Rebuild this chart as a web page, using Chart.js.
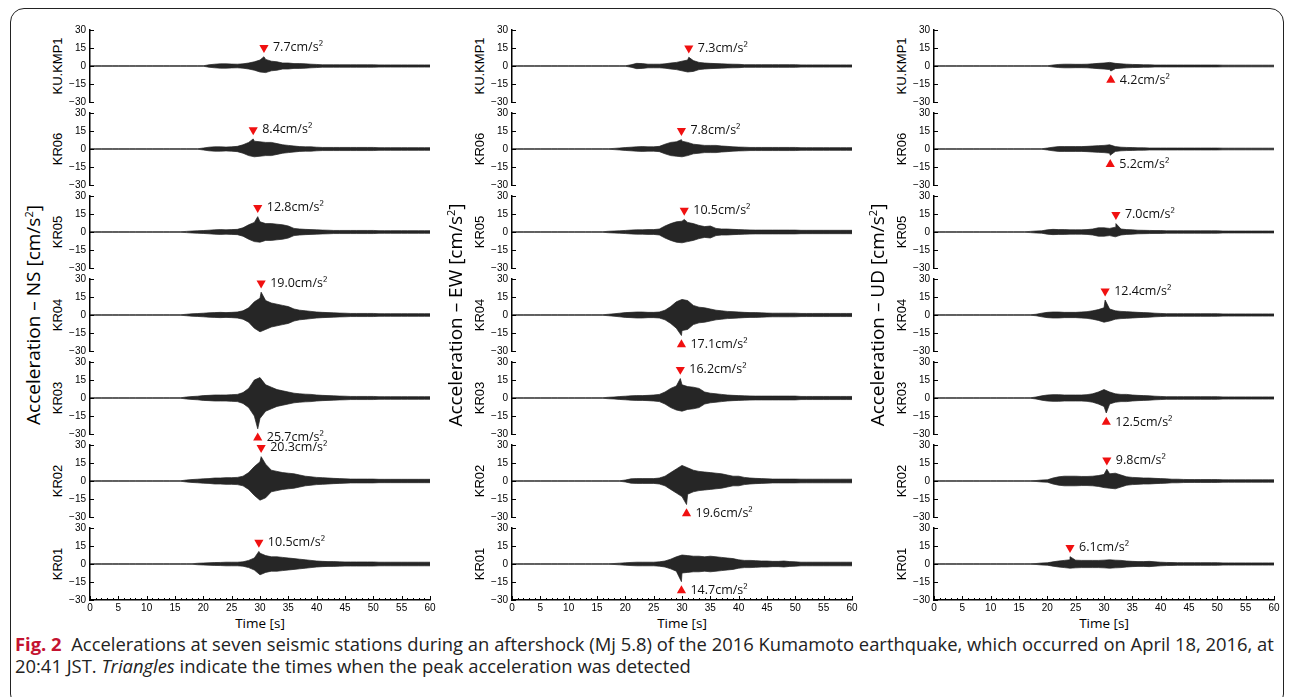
<!DOCTYPE html>
<html>
<head>
<meta charset="utf-8">
<script src="https://cdn.jsdelivr.net/npm/chart.js@4.4.0/dist/chart.umd.min.js"></script>
<style>
body { margin: 0; background: #fff; width: 1290px; height: 697px; overflow: hidden; position: relative; font-family: 'Open Sans', sans-serif; }
.frame { position: absolute; left: 10px; top: 8px; width: 1274px; height: 700px; border: 1px solid #222; border-radius: 14px; box-sizing: border-box; }
.panel { position: absolute; }
.vlab { position: absolute; transform: translate(-50%, -50%) rotate(-90deg); white-space: nowrap; color: #000; }
.hlab { position: absolute; transform: translate(-50%, -50%); white-space: nowrap; color: #000; font-size: 13.5px; }
.station { font-family: 'Liberation Sans', Arial, sans-serif; font-size: 13px; }
.comp { font-family: 'Open Sans', sans-serif; font-size: 19px; }
.caption { position: absolute; left: 15px; top: 633px; width: 1270px; font-size: 18.4px; line-height: 22px; color: #222; white-space: nowrap; }
.caption b { color: #c41230; }
</style>
</head>
<body>
<div class="frame"></div>
<div class="caption"><b>Fig. 2</b>&nbsp; Accelerations at seven seismic stations during an aftershock (Mj 5.8) of the 2016 Kumamoto earthquake, which occurred on April 18, 2016, at<br>20:41 JST. <i>Triangles</i> indicate the times when the peak acceleration was detected</div>
<script>
// time axis (s) and ticks
const timeSec = [0,1,2,3,4,5,6,7,8,9,10,11,12,13,14,15,16,17,18,19,20,21,22,23,24,25,26,27,28,29,30,
  31,32,33,34,35,36,37,38,39,40,41,42,43,44,45,46,47,48,49,50,51,52,53,54,55,56,57,58,59,60];
const xTickLabels = [0,5,10,15,20,25,30,35,40,45,50,55,60];
const yTickLabels = [-30,-15,0,15,30];

const stations = ['KU.KMP1','KR06','KR05','KR04','KR03','KR02','KR01'];
const components = ['NS','EW','UD'];

// amplitude envelopes, cm/s^2, one value per second 0..60
const nsKMP1 = [.2,.2,.2,.2,.2,.2,.2,.2,.2,.2, .2,.2,.2,.2,.2,.2,.2,.2,.2,.2,
  .2,1.0,1.5,1.8,1.8,1.6,1.5,1.8,2.5,3.5, 5.0,5.5,4.0,3.5,2.5,2.5,2.0,2.0,1.8,1.5,
  1.3,1.0,1.0,1.0,1.0,1.0,1.0,1.0,1.0,1.0, 1.0,.9,.9,.9,.9,.9,.9,.9,.9,.9,.9];
const nsKR06 = [.2,.2,.2,.2,.2,.2,.2,.2,.2,.2, .2,.2,.2,.2,.2,.2,.2,.2,.2,.2,
  .8,1.5,1.8,1.8,1.6,1.8,2.2,3.5,5.5,6.5, 6.0,5.5,5.5,4.5,3.5,3.0,2.5,2.0,1.8,1.8,
  1.5,1.3,1.3,1.3,1.3,1.3,1.3,1.3,1.3,1.3, 1.3,1.1,1.1,1.1,1.1,1.1,1.1,1.1,1.1,1.1,1.1];
const nsKR05 = [.2,.2,.2,.2,.2,.2,.2,.2,.2,.2, .2,.2,.2,.2,.2,.2,.2,.5,.8,1.0,
  1.2,1.5,1.8,2.0,1.8,2.0,2.2,3.5,6.0,8.0, 8.5,7.0,7.0,6.5,6.0,5.0,3.0,2.5,2.2,2.0,
  1.8,1.6,1.5,1.3,1.3,1.3,1.3,1.3,1.3,1.3, 1.3,1.1,1.1,1.1,1.1,1.1,1.1,1.1,1.1,1.1,1.1];
const nsKR04 = [.2,.2,.2,.2,.2,.2,.2,.2,.2,.2, .2,.2,.2,.2,.2,.2,.2,.6,1.0,1.2,
  1.5,1.8,2.0,2.2,2.0,2.2,2.5,3.5,6.0,11.0, 14.0,12.0,10.0,9.0,8.0,7.0,5.0,4.0,3.5,3.0,
  2.5,2.2,2.0,1.8,1.6,1.5,1.3,1.3,1.3,1.3, 1.3,1.1,1.1,1.1,1.1,1.1,1.1,1.1,1.1,1.1,1.1];
const nsKR03 = [.2,.2,.2,.2,.2,.2,.2,.2,.2,.2, .2,.2,.2,.2,.2,.2,.2,.8,1.2,1.5,
  2.0,2.2,2.5,2.5,2.5,2.8,3.0,4.5,8.0,15.0, 17.0,11.0,9.0,7.0,6.0,5.0,4.0,3.5,3.2,3.0,
  2.5,2.2,2.0,1.8,1.6,1.5,1.3,1.3,1.3,1.3, 1.3,1.1,1.1,1.1,1.1,1.1,1.1,1.1,1.1,1.1,1.1];
const nsKR02 = [.2,.2,.2,.2,.2,.2,.2,.2,.2,.2, .2,.2,.2,.2,.2,.2,.2,.8,1.2,1.5,
  1.8,2.0,2.5,2.5,2.8,2.8,3.0,4.0,7.0,12.0, 16.0,14.0,9.0,8.0,7.0,6.5,6.0,5.0,4.0,3.5,
  3.0,2.8,2.5,2.2,2.0,1.8,1.6,1.6,1.6,1.6, 1.6,1.4,1.4,1.4,1.4,1.4,1.4,1.4,1.4,1.4,1.4];
const nsKR01 = [.2,.2,.2,.2,.2,.2,.2,.2,.2,.2, .2,.2,.2,.2,.2,.2,.2,.2,.2,.6,
  .8,1.0,1.2,1.3,1.5,1.5,1.5,1.8,3.0,5.0, 9.0,7.0,6.0,6.0,5.5,5.0,4.5,4.0,3.5,3.0,
  2.5,2.2,2.0,2.0,1.8,1.7,1.7,1.7,1.7,1.7, 1.7,1.5,1.5,1.5,1.5,1.5,1.5,1.5,1.5,1.5,1.5];

const ewKMP1 = [.2,.2,.2,.2,.2,.2,.2,.2,.2,.2, .2,.2,.2,.2,.2,.2,.2,.2,.2,.2,
  .2,1.0,2.2,2.0,1.5,1.5,1.5,1.8,2.5,3.0, 4.0,5.0,4.5,3.0,2.5,2.2,2.0,1.8,1.6,1.5,
  1.4,1.1,1.1,1.1,1.1,1.1,1.1,1.1,1.1,1.1, 1.1,.9,.9,.9,.9,.9,.9,.9,.9,.9,.9];
const ewKR06 = [.2,.2,.2,.2,.2,.2,.2,.2,.2,.2, .2,.2,.2,.2,.2,.2,.2,.2,.5,.8,
  1.2,1.5,1.8,2.0,1.8,1.8,2.2,4.0,5.5,6.0, 6.5,5.5,4.0,3.5,3.0,3.0,3.0,2.5,2.2,1.8,
  1.6,1.5,1.3,1.3,1.3,1.3,1.3,1.3,1.3,1.3, 1.3,1.1,1.1,1.1,1.1,1.1,1.1,1.1,1.1,1.1,1.1];
const ewKR05 = [.2,.2,.2,.2,.2,.2,.2,.2,.2,.2, .2,.2,.2,.2,.2,.2,.2,.6,.8,1.0,
  1.3,1.6,1.8,1.8,2.0,2.0,2.5,5.0,7.0,8.5, 9.0,8.0,7.0,5.5,4.5,5.0,3.0,2.5,2.5,2.2,
  2.0,1.8,1.7,1.6,1.6,1.6,1.6,1.6,1.6,1.6, 1.6,1.4,1.4,1.4,1.4,1.4,1.4,1.4,1.4,1.4,1.4];
const ewKR04 = [.2,.2,.2,.2,.2,.2,.2,.2,.2,.2, .2,.2,.2,.2,.2,.2,.2,.6,1.0,1.5,
  2.0,2.2,2.5,2.5,2.2,2.2,2.5,4.0,7.0,11.0, 13.0,12.0,8.0,6.5,6.0,5.0,4.0,3.5,3.0,2.8,
  2.5,2.2,2.0,2.0,1.8,1.6,1.5,1.5,1.5,1.5, 1.5,1.3,1.3,1.3,1.3,1.3,1.3,1.3,1.3,1.3,1.3];
const ewKR03 = [.2,.2,.2,.2,.2,.2,.2,.2,.2,.2, .2,.2,.2,.2,.2,.2,.2,.6,.8,1.2,
  1.5,1.8,2.0,2.0,2.2,2.5,3.0,5.0,8.0,10.0, 11.0,9.5,9.0,8.0,5.0,4.0,3.5,3.0,2.5,2.2,
  2.0,1.8,1.7,1.6,1.6,1.6,1.6,1.6,1.6,1.6, 1.6,1.3,1.3,1.3,1.3,1.3,1.3,1.3,1.3,1.3,1.3];
const ewKR02 = [.2,.2,.2,.2,.2,.2,.2,.2,.2,.2, .2,.2,.2,.2,.2,.2,.2,.2,.2,.2,
  .8,1.8,2.0,2.0,2.0,2.0,2.5,4.0,7.0,10.0, 13.0,11.0,9.0,8.0,7.5,7.0,6.5,6.0,5.0,4.0,
  4.0,3.0,2.5,2.2,2.0,1.8,1.6,1.6,1.6,1.6, 1.6,1.5,1.5,1.5,1.5,1.5,1.5,1.5,1.5,1.5,1.5];
const ewKR01 = [.2,.2,.2,.2,.2,.2,.2,.2,.2,.2, .2,.2,.2,.2,.2,.2,.2,.2,.4,.7,
  1.0,1.3,1.5,1.5,1.5,1.5,1.8,2.5,4.0,6.0, 7.5,7.0,6.5,6.5,6.0,6.5,6.0,5.5,5.0,4.5,
  3.5,3.0,3.0,2.8,2.5,2.5,2.2,2.2,2.5,2.0, 1.8,1.5,1.5,1.5,1.5,1.5,1.5,1.5,1.5,1.5,1.5];

const udKMP1 = [.2,.2,.2,.2,.2,.2,.2,.2,.2,.2, .2,.2,.2,.2,.2,.2,.2,.2,.2,.2,
  .2,.8,1.3,1.5,1.5,1.4,1.4,1.5,1.8,2.2, 2.5,3.0,2.2,1.8,1.5,1.3,1.2,1.0,1.0,.8,
  .8,.8,.8,.8,.8,.8,.8,.8,.8,.8, .8,.7,.7,.7,.7,.7,.7,.7,.7,.7,.7];
const udKR06 = [.2,.2,.2,.2,.2,.2,.2,.2,.2,.2, .2,.2,.2,.2,.2,.2,.2,.2,.2,.2,
  .8,1.5,2.0,2.0,2.0,2.0,2.0,2.2,2.5,2.8, 3.0,3.5,2.0,1.5,1.3,1.2,1.0,1.0,.8,.8,
  .8,.8,.8,.8,.8,.8,.8,.8,.8,.8, .8,.7,.7,.7,.7,.7,.7,.7,.7,.7,.7];
const udKR05 = [.2,.2,.2,.2,.2,.2,.2,.2,.2,.2, .2,.2,.2,.2,.2,.2,.2,.5,.8,1.0,
  1.8,2.2,2.0,2.0,1.8,1.8,1.8,2.0,2.5,3.5, 3.5,3.0,4.0,2.5,2.0,1.8,1.5,1.4,1.3,1.2,
  1.2,1.0,1.0,1.0,1.0,1.0,1.0,1.0,1.0,1.0, 1.0,.8,.8,.8,.8,.8,.8,.8,.8,.8,.8];
const udKR04 = [.2,.2,.2,.2,.2,.2,.2,.2,.2,.2, .2,.2,.2,.2,.2,.2,.2,.2,.6,1.5,
  2.2,2.5,2.5,2.2,2.2,2.2,2.5,2.8,3.5,4.5, 6.0,5.0,3.5,3.0,2.8,2.5,2.2,2.0,1.8,1.5,
  1.3,1.1,1.1,1.1,1.1,1.1,1.1,1.1,1.1,1.1, 1.1,.9,.9,.9,.9,.9,.9,.9,.9,.9,.9];
const udKR03 = [.2,.2,.2,.2,.2,.2,.2,.2,.2,.2, .2,.2,.2,.2,.2,.2,.2,.2,.8,1.8,
  2.5,2.8,2.8,2.5,2.5,2.5,2.5,2.8,3.5,5.0, 7.0,5.0,3.5,3.0,3.0,2.5,2.2,2.0,1.8,1.5,
  1.3,1.1,1.1,1.1,1.1,1.1,1.1,1.1,1.1,1.1, 1.1,.9,.9,.9,.9,.9,.9,.9,.9,.9,.9];
const udKR02 = [.2,.2,.2,.2,.2,.2,.2,.2,.2,.2, .2,.2,.2,.2,.2,.2,.2,.2,.4,.8,
  1.0,2.5,3.5,4.0,4.0,4.0,3.8,3.8,4.0,4.5, 5.5,6.0,6.5,5.0,3.5,3.0,2.8,2.5,2.5,2.2,
  2.0,1.8,1.5,1.5,1.3,1.2,1.2,1.2,1.2,1.2, 1.2,1.0,1.0,1.0,1.0,1.0,1.0,1.0,1.0,1.0,1.0];
const udKR01 = [.2,.2,.2,.2,.2,.2,.2,.2,.2,.2, .2,.2,.2,.2,.2,.2,.2,.2,.4,.8,
  1.0,1.8,2.5,3.0,3.5,3.2,3.0,3.0,3.0,3.0, 3.2,3.5,3.2,3.0,2.5,2.2,2.0,2.0,2.2,1.8,
  1.5,1.3,1.2,1.1,1.1,1.1,1.1,1.1,1.1,1.1, 1.1,.9,.9,.9,.9,.9,.9,.9,.9,.9,.9];

const envNS = [nsKMP1, nsKR06, nsKR05, nsKR04, nsKR03, nsKR02, nsKR01];
const envEW = [ewKMP1, ewKR06, ewKR05, ewKR04, ewKR03, ewKR02, ewKR01];
const envUD = [udKMP1, udKR06, udKR05, udKR04, udKR03, udKR02, udKR01];

// peak accelerations (triangles): time in s, signed value in cm/s^2
const peakTimeNS = [30.7, 28.8, 29.6, 30.2, 29.6, 30.2, 29.8];
const peakValNS  = [7.7, 8.4, 12.8, 19.0, -25.7, 20.3, 10.5];
const peakTimeEW = [31.2, 29.9, 30.4, 29.9, 29.7, 30.8, 29.9];
const peakValEW  = [7.3, 7.8, 10.5, -17.1, 16.2, -19.6, -14.7];
const peakTimeUD = [31.2, 31.1, 32.1, 30.2, 30.4, 30.5, 24.0];
const peakValUD  = [-4.2, -5.2, 7.0, 12.4, -12.5, 9.8, 6.1];

const envs = [envNS, envEW, envUD];
const peakTimes = [peakTimeNS, peakTimeEW, peakTimeUD];
const peakVals = [peakValNS, peakValEW, peakValUD];

// layout
const axisLeft = [90, 512, 934];
const plotW = 340, panelH = 72, panelTop0 = 30, panelStep = 83;
const padT = 14, padB = 14, yAxisW = 40, padR = 20, xAxisH = 20;
const markerGap = 7.5;   // triangle offset from the peak, in cm/s^2

Chart.defaults.font.family = "'Liberation Sans', Arial, sans-serif";
Chart.defaults.color = '#000';

const minus = s => String(s).replace('-', '\u2212');

const axisTicks = {
  id: 'axisTicks',
  afterDraw(chart) {
    const ctx = chart.ctx, a = chart.chartArea, ys = chart.scales.y, xs = chart.scales.x;
    ctx.save();
    ctx.strokeStyle = '#000';
    ctx.lineWidth = 1;
    yTickLabels.forEach(v => {
      const py = Math.round(ys.getPixelForValue(v)) + 0.5;
      ctx.beginPath(); ctx.moveTo(a.left, py); ctx.lineTo(a.left + 4, py); ctx.stroke();
    });
    if (xs.options.display) {
      timeSec.forEach(t => {
        const px = Math.round(xs.getPixelForValue(t)) + 0.5;
        const len = xTickLabels.includes(t) ? 4 : 2;
        ctx.beginPath(); ctx.moveTo(px, a.bottom); ctx.lineTo(px, a.bottom - len); ctx.stroke();
      });
    }
    ctx.restore();
  }
};

const peakLabel = {
  id: 'peakLabel',
  afterDatasetsDraw(chart) {
    const pt = chart.getDatasetMeta(2).data[0];
    if (!pt) return;
    const ctx = chart.ctx;
    ctx.save();
    ctx.font = "12.5px 'Open Sans', sans-serif";
    ctx.fillStyle = '#111';
    ctx.textBaseline = 'middle';
    ctx.fillText(chart.options.plugins.peakLabel.text, pt.x + 9, pt.y);
    ctx.restore();
  }
};

function addLabel(cls, text, x, y) {
  const d = document.createElement('div');
  d.className = cls;
  d.style.left = x + 'px';
  d.style.top = y + 'px';
  d.innerHTML = text;
  document.body.appendChild(d);
}

function makePanel(c, k) {
  const env = envs[c][k], pt = peakTimes[c][k], pv = peakVals[c][k];
  const last = k === stations.length - 1;
  const w = yAxisW + plotW + padR;
  const h = padT + panelH + (last ? xAxisH + 6 : padB);

  const upper = timeSec.map((t, i) => ({ x: t, y: env[i] }));
  const lower = timeSec.map((t, i) => ({ x: t, y: -env[i] }));
  if (pv > 0) upper.push({ x: pt, y: pv }); else lower.push({ x: pt, y: pv });
  upper.sort((a, b) => a.x - b.x);
  lower.sort((a, b) => a.x - b.x);

  const div = document.createElement('div');
  div.className = 'panel';
  div.style.left = (axisLeft[c] - yAxisW) + 'px';
  div.style.top = (panelTop0 + panelStep * k - padT) + 'px';
  const cv = document.createElement('canvas');
  cv.width = w; cv.height = h;
  div.appendChild(cv);
  document.body.appendChild(div);

  const xScale = {
    type: 'linear', min: 0, max: 60, display: last,
    grid: { display: false, drawTicks: false },
    border: { display: true, color: '#000', width: 1.5 },
    ticks: { stepSize: 5, autoSkip: false, maxRotation: 0, padding: 2, font: { size: 10 } }
  };
  if (last) xScale.afterFit = s => { s.height = xAxisH; };

  new Chart(cv, {
    type: 'line',
    data: {
      datasets: [
        { data: upper, borderColor: '#1e1e1e', borderWidth: 0.7, backgroundColor: '#262626',
          fill: '+1', pointRadius: 0, tension: 0, clip: false },
        { data: lower, borderColor: '#1e1e1e', borderWidth: 0.7, backgroundColor: '#262626',
          fill: false, pointRadius: 0, tension: 0, clip: false },
        { type: 'scatter', data: [{ x: pt, y: pv > 0 ? pv + markerGap : pv - markerGap }],
          pointStyle: 'triangle', rotation: pv > 0 ? 180 : 0, pointRadius: 5.3,
          backgroundColor: '#f01010', borderColor: '#f01010', borderWidth: 0, clip: false }
      ]
    },
    options: {
      responsive: false,
      animation: false,
      events: [],
      layout: { padding: { left: 0, right: padR, top: padT, bottom: last ? 6 : padB } },
      plugins: {
        legend: { display: false },
        tooltip: { enabled: false },
        peakLabel: { text: Math.abs(pv).toFixed(1) + 'cm/s\u00b2' }
      },
      scales: {
        x: xScale,
        y: {
          min: -30, max: 30,
          grid: { display: false, drawTicks: false },
          border: { display: true, color: '#000', width: 1.5 },
          ticks: { stepSize: 15, padding: 4, font: { size: 10 }, callback: v => minus(v) },
          afterFit: s => { s.width = yAxisW; }
        }
      }
    },
    plugins: [axisTicks, peakLabel]
  });
}

components.forEach((comp, c) => {
  addLabel('vlab comp', 'Acceleration \u2013 ' + comp + ' [cm/s<sup style="font-size:11px">2</sup>]', axisLeft[c] - 57, 315);
  addLabel('hlab', 'Time [s]', axisLeft[c] + plotW / 2, 623);
  stations.forEach((st, k) => {
    addLabel('vlab station', st, axisLeft[c] - 33, panelTop0 + panelStep * k + panelH / 2);
    makePanel(c, k);
  });
});
</script>
</body>
</html>
